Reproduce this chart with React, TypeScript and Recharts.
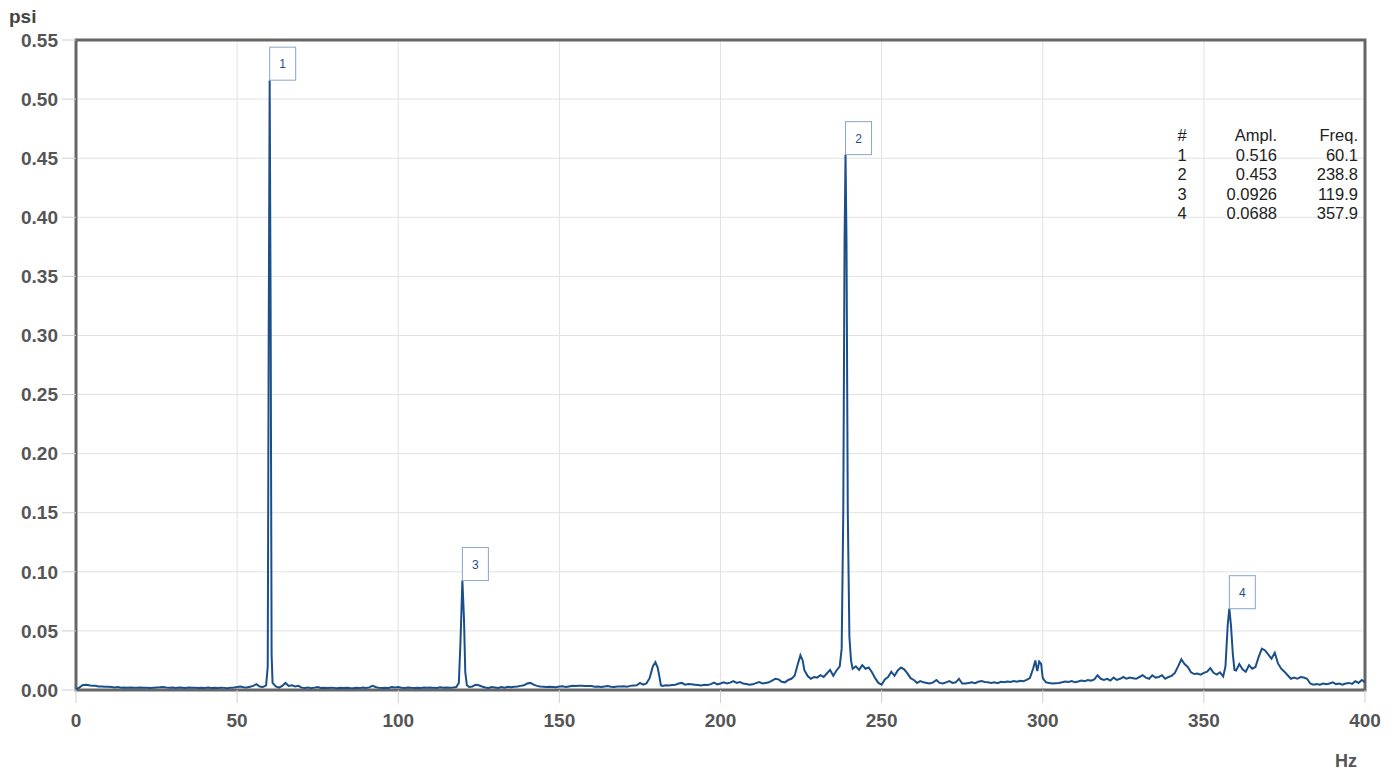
import React from "react";
import {
  LineChart,
  Line,
  XAxis,
  YAxis,
  CartesianGrid,
  ReferenceDot,
  ReferenceArea,
} from "recharts";

// spectrum, [Hz, psi]
const band0to100: [number, number][] = [
  [0, 0.0005], [1, 0.002], [2, 0.004], [3, 0.0045], [4, 0.004], [5, 0.0035], [6, 0.0035], [7, 0.003],
  [8, 0.003], [9, 0.0028], [10, 0.0027], [11, 0.0025], [12, 0.0022], [13, 0.0025], [14, 0.002], [15, 0.0022],
  [16, 0.002], [17, 0.0021], [18, 0.0019], [19, 0.002], [20, 0.0021], [21, 0.0019], [22, 0.002], [23, 0.0018],
  [24, 0.002], [25, 0.0022], [26, 0.0023], [27, 0.0025], [28, 0.0022], [29, 0.002], [30, 0.0021], [31, 0.0018],
  [32, 0.0022], [33, 0.002], [34, 0.0017], [35, 0.0021], [36, 0.0019], [37, 0.002], [38, 0.0016], [39, 0.002],
  [40, 0.0018], [41, 0.0021], [42, 0.0017], [43, 0.0019], [44, 0.0016], [45, 0.002], [46, 0.0018], [47, 0.0015],
  [48, 0.002], [49, 0.0022], [50, 0.0025], [51, 0.003], [52, 0.0024], [53, 0.0022], [54, 0.0028], [55, 0.0035],
  [56, 0.005], [57, 0.003], [58, 0.0025], [59, 0.004], [59.5, 0.02], [59.8, 0.3], [60.1, 0.516], [60.4, 0.32],
  [60.7, 0.03], [61, 0.006], [62, 0.003], [63, 0.002], [64, 0.0035], [65, 0.006], [66, 0.0035], [67, 0.004],
  [68, 0.003], [69, 0.0035], [70, 0.002], [71, 0.0018], [72, 0.0022], [73, 0.0015], [74, 0.002], [75, 0.0025],
  [76, 0.0018], [77, 0.002], [78, 0.0016], [79, 0.002], [80, 0.0018], [81, 0.0015], [82, 0.0019], [83, 0.0016],
  [84, 0.002], [85, 0.0017], [86, 0.0015], [87, 0.0019], [88, 0.0016], [89, 0.0021], [90, 0.0018], [91, 0.0022],
  [92, 0.0035], [93, 0.0025], [94, 0.0018], [95, 0.0016], [96, 0.002], [97, 0.0017], [98, 0.0025], [99, 0.0022],
  [100, 0.0025],
];

const band100to200: [number, number][] = [
  [101, 0.002], [102, 0.0018], [103, 0.0022], [104, 0.0019], [105, 0.0017], [106, 0.002], [107, 0.0018],
  [108, 0.0022], [109, 0.0019], [110, 0.0021], [111, 0.0018], [112, 0.0017], [113, 0.0023], [114, 0.002],
  [115, 0.0022], [116, 0.002], [117, 0.0021], [118, 0.0025], [118.8, 0.006], [119.3, 0.04], [119.9, 0.0926],
  [120.4, 0.06], [120.8, 0.015], [121.3, 0.004], [122, 0.0025], [123, 0.003], [124, 0.0045], [125, 0.004],
  [126, 0.003], [127, 0.0022], [128, 0.0018], [129, 0.0025], [130, 0.0022], [131, 0.0018], [132, 0.0025],
  [133, 0.002], [134, 0.0028], [135, 0.0024], [136, 0.0028], [137, 0.003], [138, 0.0035], [139, 0.004],
  [140, 0.0055], [141, 0.006], [142, 0.0045], [143, 0.0035], [144, 0.003], [145, 0.0028], [146, 0.0025],
  [147, 0.0028], [148, 0.0026], [149, 0.0024], [150, 0.003], [151, 0.0032], [152, 0.0025], [153, 0.003],
  [154, 0.0035], [155, 0.0033], [156, 0.0035], [157, 0.0036], [158, 0.0034], [159, 0.0033], [160, 0.0034],
  [161, 0.0028], [162, 0.003], [163, 0.0025], [164, 0.003], [165, 0.0033], [166, 0.0028], [167, 0.0026],
  [168, 0.003], [169, 0.0029], [170, 0.0031], [171, 0.0028], [172, 0.0035], [173, 0.0038], [174, 0.004],
  [175, 0.006], [176, 0.0045], [177, 0.0055], [178, 0.01], [179, 0.02], [179.8, 0.0235], [180.5, 0.019],
  [181, 0.012], [181.5, 0.004], [182, 0.0035], [183, 0.004], [184, 0.0038], [185, 0.0042], [186, 0.0045],
  [187, 0.0055], [188, 0.006], [189, 0.0045], [190, 0.005], [191, 0.0048], [192, 0.0045], [193, 0.0042],
  [194, 0.0038], [195, 0.0045], [196, 0.0042], [197, 0.005], [198, 0.0062], [199, 0.0048], [200, 0.0055],
];

const band200to300: [number, number][] = [
  [201, 0.0065], [202, 0.0055], [203, 0.0062], [204, 0.0075], [205, 0.006], [206, 0.0068], [207, 0.0055],
  [208, 0.005], [209, 0.0045], [210, 0.0048], [211, 0.0058], [212, 0.0068], [213, 0.0055], [214, 0.006],
  [215, 0.0065], [216, 0.008], [217, 0.0095], [218, 0.009], [219, 0.007], [220, 0.0065], [221, 0.0085],
  [222, 0.0095], [223, 0.012], [224, 0.022], [224.8, 0.0295], [225.5, 0.025], [226, 0.017], [227, 0.012],
  [228, 0.0095], [229, 0.011], [230, 0.0105], [231, 0.0125], [232, 0.011], [233, 0.014], [234, 0.017],
  [235, 0.012], [236, 0.0165], [237, 0.02], [237.6, 0.035], [238.1, 0.15], [238.5, 0.38], [238.8, 0.453],
  [239.1, 0.38], [239.5, 0.15], [240, 0.045], [240.5, 0.025], [241, 0.018], [242, 0.02], [243, 0.017],
  [244, 0.021], [245, 0.018], [246, 0.019], [247, 0.015], [248, 0.01], [249, 0.006], [250, 0.0045],
  [251, 0.009], [252, 0.011], [253, 0.0155], [254, 0.012], [255, 0.0165], [256, 0.019], [257, 0.0175],
  [258, 0.014], [259, 0.01], [260, 0.0085], [261, 0.006], [262, 0.0075], [263, 0.0065], [264, 0.006],
  [265, 0.0055], [266, 0.0065], [267, 0.0085], [268, 0.006], [269, 0.0055], [270, 0.0065], [271, 0.0075],
  [272, 0.006], [273, 0.0065], [274, 0.0095], [275, 0.0055], [276, 0.0055], [277, 0.006], [278, 0.0065],
  [279, 0.0058], [280, 0.007], [281, 0.0075], [282, 0.0068], [283, 0.0065], [284, 0.006], [285, 0.0065],
  [286, 0.0058], [287, 0.007], [288, 0.0065], [289, 0.0072], [290, 0.0068], [291, 0.0075], [292, 0.007],
  [293, 0.0078], [294, 0.0075], [295, 0.0085], [296, 0.01], [297, 0.018], [297.7, 0.025], [298.3, 0.016],
  [298.9, 0.024], [299.5, 0.022], [300, 0.01],
];

const band300to400: [number, number][] = [
  [301, 0.0065], [302, 0.006], [303, 0.0055], [304, 0.0058], [305, 0.006], [306, 0.0065], [307, 0.0072],
  [308, 0.0068], [309, 0.0075], [310, 0.0065], [311, 0.0072], [312, 0.008], [313, 0.0075], [314, 0.0085],
  [315, 0.0078], [316, 0.009], [317, 0.0125], [318, 0.0095], [319, 0.0085], [320, 0.0095], [321, 0.008],
  [322, 0.0105], [323, 0.0085], [324, 0.0095], [325, 0.011], [326, 0.0095], [327, 0.0105], [328, 0.01],
  [329, 0.0095], [330, 0.011], [331, 0.0125], [332, 0.0105], [333, 0.0095], [334, 0.0125], [335, 0.0105],
  [336, 0.011], [337, 0.0125], [338, 0.0095], [339, 0.011], [340, 0.012], [341, 0.0145], [342, 0.02],
  [343, 0.026], [344, 0.022], [345, 0.0195], [346, 0.015], [347, 0.0135], [348, 0.014], [349, 0.013],
  [350, 0.0145], [351, 0.0155], [352, 0.0185], [353, 0.0145], [354, 0.013], [355, 0.015], [356, 0.0115],
  [356.7, 0.02], [357.4, 0.055], [357.9, 0.0688], [358.4, 0.055], [359, 0.03], [359.5, 0.017], [360, 0.0165],
  [361, 0.022], [362, 0.0175], [363, 0.0155], [364, 0.021], [365, 0.018], [366, 0.0195], [367, 0.028],
  [368, 0.035], [369, 0.0335], [370, 0.03], [371, 0.0265], [372, 0.0315], [373, 0.0225], [374, 0.018],
  [375, 0.0155], [376, 0.0125], [377, 0.0095], [378, 0.0105], [379, 0.0095], [380, 0.011], [381, 0.0105],
  [382, 0.0095], [383, 0.0055], [384, 0.0045], [385, 0.005], [386, 0.0045], [387, 0.0055], [388, 0.0048],
  [389, 0.0055], [390, 0.0065], [391, 0.005], [392, 0.0055], [393, 0.0045], [394, 0.0055], [395, 0.006],
  [396, 0.0052], [397, 0.0075], [398, 0.006], [399, 0.0085], [400, 0.0065],
];

// peak table
const peakIds = ["1", "2", "3", "4"];
const peakAmpl = [0.516, 0.453, 0.0926, 0.0688];
const peakAmplText = ["0.516", "0.453", "0.0926", "0.0688"];
const peakFreq = [60.1, 238.8, 119.9, 357.9];

const xTicks = [0, 50, 100, 150, 200, 250, 300, 350, 400];
const yTicks = [0, 0.05, 0.1, 0.15, 0.2, 0.25, 0.3, 0.35, 0.4, 0.45, 0.5, 0.55];

const data = [...band0to100, ...band100to200, ...band200to300, ...band300to400].map(
  ([hz, psi]) => ({ hz, psi }),
);

const FONT = "'Liberation Sans', Arial, sans-serif";
const LINE = "#1b4f8a";
const BORDER = "#666";

function PeakFlag(props: any) {
  const { cx, cy, label } = props;
  if (cx == null || cy == null) return null;
  return (
    <g>
      <rect x={cx} y={cy - 33} width={26} height={33} fill="#fff" stroke="#8aa6c8" strokeWidth={1} />
      <text x={cx + 13} y={cy - 12} textAnchor="middle" fontSize={12} fill={LINE} fontFamily={FONT}>
        {label}
      </text>
    </g>
  );
}

export default function App() {
  const tickStyle = { fontSize: 19, fontWeight: "bold" as const, fill: "#555", fontFamily: FONT };
  const rowY = [160.5, 180, 199.5, 218.5];

  return (
    <div style={{ position: "absolute", left: 0, top: 0, width: 1397, height: 772, background: "#fff" }}>
      <LineChart
        width={1397}
        height={772}
        data={data}
        margin={{ top: 40, right: 32, bottom: 42, left: 0 }}
      >
        <CartesianGrid stroke="#e2e2e2" strokeWidth={1} />
        <XAxis
          dataKey="hz"
          type="number"
          domain={[0, 400]}
          ticks={xTicks}
          height={40}
          tickSize={13}
          tickMargin={11}
          tick={tickStyle}
          tickLine={{ stroke: "#cfcfcf" }}
          axisLine={false}
          allowDataOverflow
        />
        <YAxis
          type="number"
          domain={[0, 0.55]}
          ticks={yTicks}
          width={76}
          tickSize={14}
          tickMargin={4}
          tick={tickStyle}
          tickFormatter={(v: number) => v.toFixed(2)}
          tickLine={{ stroke: "#cfcfcf" }}
          axisLine={false}
          allowDataOverflow
        />
        <Line
          dataKey="psi"
          type="linear"
          stroke={LINE}
          strokeWidth={2}
          dot={false}
          isAnimationActive={false}
        />
        {/* plot frame */}
        <ReferenceArea
          x1={0}
          x2={400}
          y1={0}
          y2={0.55}
          fill="none"
          fillOpacity={0}
          stroke={BORDER}
          strokeWidth={3}
          ifOverflow="visible"
        />
        {peakIds.map((id, i) => (
          <ReferenceDot
            key={id}
            x={peakFreq[i]}
            y={peakAmpl[i]}
            ifOverflow="visible"
            shape={(p: any) => <PeakFlag {...p} label={id} />}
          />
        ))}
      </LineChart>

      <svg
        width={1397}
        height={772}
        style={{ position: "absolute", left: 0, top: 0, pointerEvents: "none" }}
        fontFamily={FONT}
      >
        <text x={9} y={23} fontSize={19} fontWeight="bold" fill="#444">psi</text>
        <text x={1335} y={767} fontSize={18} fontWeight="bold" fill="#555">Hz</text>

        <text x={1182} y={140.5} fontSize={16.5} textAnchor="middle" fill="#222">#</text>
        <text x={1277} y={140.5} fontSize={16.5} textAnchor="end" fill="#222">Ampl.</text>
        <text x={1358} y={140.5} fontSize={16.5} textAnchor="end" fill="#222">Freq.</text>
        {peakIds.map((id, i) => (
          <g key={id}>
            <text x={1182} y={rowY[i]} fontSize={16.5} textAnchor="middle" fill="#222">{id}</text>
            <text x={1277} y={rowY[i]} fontSize={16.5} textAnchor="end" fill="#222">{peakAmplText[i]}</text>
            <text x={1358} y={rowY[i]} fontSize={16.5} textAnchor="end" fill="#222">{peakFreq[i].toFixed(1)}</text>
          </g>
        ))}
      </svg>
    </div>
  );
}
